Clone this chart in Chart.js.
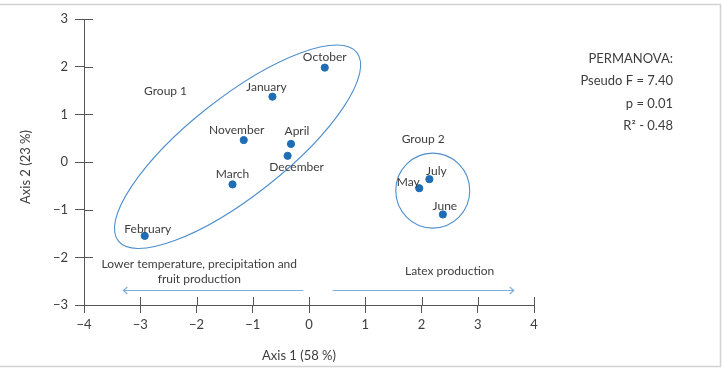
<!DOCTYPE html>
<html>
<head>
<meta charset="utf-8">
<script src="https://cdn.jsdelivr.net/npm/chart.js@4/dist/chart.umd.min.js"></script>
<style>
html,body{margin:0;padding:0;background:#fff;}
#wrap{width:722px;height:370px;position:relative;}
</style>
</head>
<body>
<div id="wrap"><canvas id="c" width="722" height="370"></canvas></div>
<script>
// ---- data ----
const months = ['October','January','November','April','December','March','February','July','May','June'];
const axis1 = [0.28, -0.65, -1.16, -0.32, -0.38, -1.36, -2.92, 2.14, 1.96, 2.38];
const axis2 = [1.98, 1.37, 0.46, 0.38, 0.13, -0.47, -1.55, -0.36, -0.55, -1.10];
const xTickLabels = ['−4','−3','−2','−1','0','1','2','3','4'];
const yTickLabels = ['−3','−2','−1','0','1','2','3'];
const permanovaLines = ['PERMANOVA:', 'Pseudo F = 7.40', 'p = 0.01', 'R² - 0.48'];

// ---- label placement (pixel offsets from each point) ----
const labelOffsets = {
  October:[0,-10], January:[-6,-10], November:[-7,-10], April:[6,-13], December:[9,11],
  March:[0,-10], February:[3,-7], July:[7,-8], May:[-11,-6], June:[2,-8]
};

const TEXT = '#3d3d3d';
const AXIS = '#555555';
const FONT = 'Lato, "Open Sans", sans-serif';

const annot = {
  ellipses: [
    {cx:-1.27, cy:0.32, rx:152, ry:49, rot:-38.3},
    {cx:2.20, cy:-0.60, rx:37, ry:37.5, rot:0}
  ],
  texts: [
    {t:'Group 1', x:-2.55, y:1.49},
    {t:'Group 2', x:2.03, y:0.48},
    {t:'Lower temperature, precipitation and', x:-1.95, y:-2.14},
    {t:'fruit production', x:-1.95, y:-2.46},
    {t:'Latex production', x:2.50, y:-2.29}
  ],
  arrows: [
    {x1:-0.10, x2:-3.30, y:-2.69},
    {x1:0.42, x2:3.64, y:-2.69}
  ]
};

const overlay = {
  id:'overlay',
  beforeDraw(chart){
    const ctx = chart.ctx;
    ctx.save();
    ctx.strokeStyle = '#d2d2d2';
    ctx.lineWidth = 1.5;
    ctx.strokeRect(-2, 4.5, 722.5, 362);
    ctx.restore();
  },
  afterDatasetsDraw(chart){
    const ctx = chart.ctx, xs = chart.scales.x, ys = chart.scales.y;
    const px = v => xs.getPixelForValue(v), py = v => ys.getPixelForValue(v);
    ctx.save();
    // inward halves of tick marks
    ctx.strokeStyle = AXIS; ctx.lineWidth = 1;
    xs.ticks.forEach(t => {
      const x = Math.round(px(t.value)) + 0.5;
      ctx.beginPath(); ctx.moveTo(x, ys.bottom); ctx.lineTo(x, ys.bottom - 8); ctx.stroke();
    });
    ys.ticks.forEach(t => {
      const y = Math.round(py(t.value)) + 0.5;
      ctx.beginPath(); ctx.moveTo(xs.left, y); ctx.lineTo(xs.left + 9, y); ctx.stroke();
    });
    // ellipses
    ctx.strokeStyle = '#4f8fcc'; ctx.lineWidth = 1.1;
    annot.ellipses.forEach(e => {
      ctx.beginPath();
      ctx.ellipse(px(e.cx), py(e.cy), e.rx, e.ry, e.rot*Math.PI/180, 0, Math.PI*2);
      ctx.stroke();
    });
    // arrows
    ctx.strokeStyle = '#7fb0dd'; ctx.lineWidth = 1.2;
    annot.arrows.forEach(a => {
      const x1 = px(a.x1), x2 = px(a.x2), y = Math.round(py(a.y)) + 0.5;
      const d = x2 > x1 ? 1 : -1;
      ctx.beginPath(); ctx.moveTo(x1, y); ctx.lineTo(x2, y); ctx.stroke();
      ctx.beginPath(); ctx.moveTo(x2 - d*4, y - 3.5); ctx.lineTo(x2, y); ctx.lineTo(x2 - d*4, y + 3.5); ctx.stroke();
    });
    // texts
    ctx.fillStyle = TEXT;
    ctx.font = '12px ' + FONT;
    ctx.textAlign = 'center'; ctx.textBaseline = 'middle';
    annot.texts.forEach(a => ctx.fillText(a.t, px(a.x), py(a.y)));
    // point labels
    const meta = chart.getDatasetMeta(0);
    meta.data.forEach((el, i) => {
      const o = labelOffsets[months[i]] || [0,-10];
      ctx.fillText(months[i], el.x + o[0], el.y + o[1]);
    });
    // PERMANOVA
    ctx.font = '13px ' + FONT;
    ctx.textAlign = 'right';
    permanovaLines.forEach((l, i) => ctx.fillText(l, 673, 59 + i*22.3));
    // axis titles
    ctx.textAlign = 'center';
    ctx.fillText('Axis 1 (58 %)', 299, 356);
    ctx.translate(26, 167); ctx.rotate(-Math.PI/2);
    ctx.fillText('Axis 2 (23 %)', 0, 0);
    ctx.restore();
  }
};

new Chart(document.getElementById('c'), {
  type:'scatter',
  data:{
    datasets:[{
      data: axis1.map((x,i) => ({x, y:axis2[i]})),
      backgroundColor:'#1f6db5',
      borderColor:'#1f6db5',
      pointRadius:3.6,
      pointHoverRadius:3.6
    }]
  },
  options:{
    responsive:false,
    animation:false,
    events:[],
    layout:{padding:{left:0, right:188, top:19, bottom:0}},
    plugins:{legend:{display:false}, tooltip:{enabled:false}},
    scales:{
      x:{
        type:'linear', min:-4, max:4,
        afterFit(s){ s.height = 65; },
        ticks:{stepSize:1, padding:4, color:TEXT, font:{family:FONT, size:13},
               callback:(v,i) => xTickLabels[i]},
        grid:{display:true, drawOnChartArea:false, drawTicks:true, tickLength:8, color:AXIS},
        border:{display:true, color:AXIS}
      },
      y:{
        type:'linear', min:-3, max:3,
        afterFit(s){ s.width = 84; },
        ticks:{stepSize:1, padding:7, color:TEXT, font:{family:FONT, size:13},
               callback:(v,i) => yTickLabels[i]},
        grid:{display:true, drawOnChartArea:false, drawTicks:true, tickLength:9, color:AXIS},
        border:{display:true, color:AXIS}
      }
    }
  },
  plugins:[overlay]
});
</script>
</body>
</html>
